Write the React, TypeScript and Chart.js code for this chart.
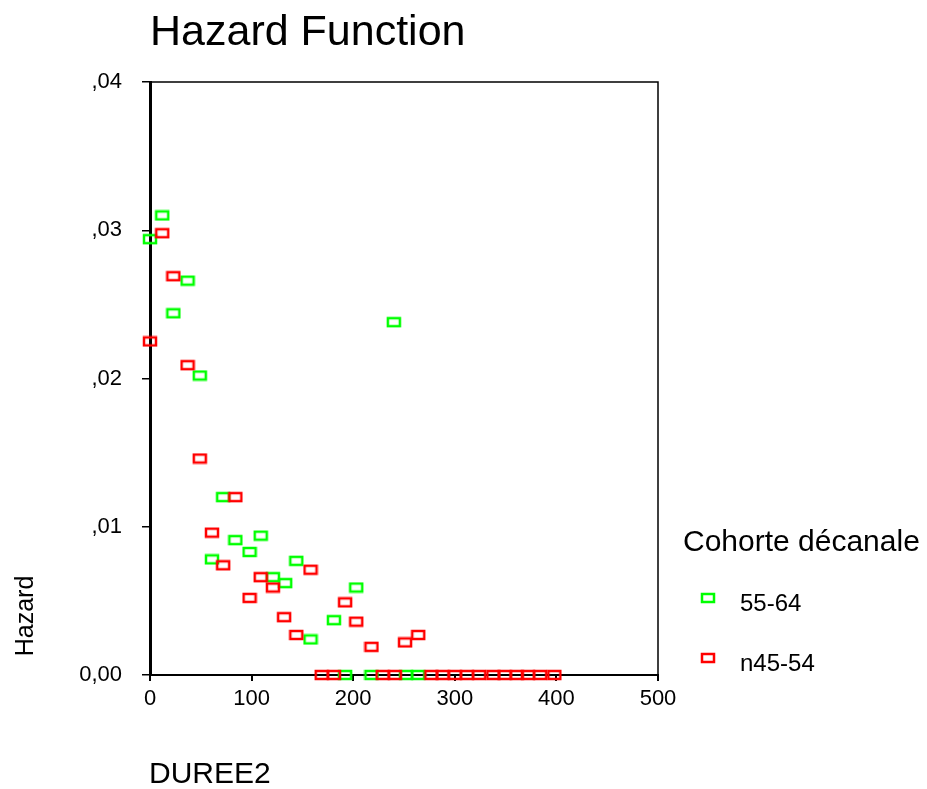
import React, { useEffect, useRef } from "react";
import { Chart, registerables } from "chart.js";

Chart.register(...registerables);

const chartTitle = "Hazard Function";
const xAxisTitle = "DUREE2";
const yAxisTitle = "Hazard";
const legendTitle = "Cohorte décanale";
const seriesLabels = ["55-64", "n45-54"];
const seriesColors = ["#00ff00", "#ff0000"];

const xTickValues = [0, 100, 200, 300, 400, 500];
const yTickValues = [0, 0.01, 0.02, 0.03, 0.04];
const yTickLabels = ["0,00", ",01", ",02", ",03", ",04"];

const greenX = [0, 12, 23, 37, 49, 61, 72, 84, 98, 109, 121, 133, 144, 158, 181, 192, 203, 218, 240, 252, 264];
const greenY = [0.0294, 0.031, 0.0244, 0.0266, 0.0202, 0.0078, 0.012, 0.0091, 0.0083, 0.0094, 0.0066, 0.0062, 0.0077, 0.0024, 0.0037, 0, 0.0059, 0, 0.0238, 0, 0];

const redX = [0, 12, 23, 37, 49, 61, 72, 84, 98, 109, 121, 132, 144, 158, 169, 181, 192, 203, 218, 229, 241, 251, 264, 277, 288, 300, 312, 324, 338, 349, 361, 372, 384, 398];
const redY = [0.0225, 0.0298, 0.0269, 0.0209, 0.0146, 0.0096, 0.0074, 0.012, 0.0052, 0.0066, 0.0059, 0.0039, 0.0027, 0.0071, 0, 0, 0.0049, 0.0036, 0.0019, 0, 0, 0.0022, 0.0027, 0, 0, 0, 0, 0, 0, 0, 0, 0, 0, 0];

const FONT = '"Liberation Sans", Arial, sans-serif';

function makeMarker(color: string) {
  const c = document.createElement("canvas");
  c.width = 16;
  c.height = 12;
  const ctx = c.getContext("2d")!;
  ctx.strokeStyle = color;
  ctx.lineWidth = 2.5;
  ctx.strokeRect(2, 2, 12, 8);
  return c;
}

export default function App() {
  const ref = useRef<HTMLCanvasElement | null>(null);

  useEffect(() => {
    const canvas = ref.current!;
    const markers = seriesColors.map(makeMarker);

    const decorPlugin = {
      id: "decor",
      afterDraw(chart: any) {
        const ctx = chart.ctx;
        const a = chart.chartArea;
        ctx.save();
        ctx.strokeStyle = "#000";
        ctx.lineWidth = 1.5;
        ctx.beginPath();
        ctx.moveTo(a.left, a.top);
        ctx.lineTo(a.right, a.top);
        ctx.lineTo(a.right, a.bottom);
        ctx.stroke();

        ctx.fillStyle = "#000";
        ctx.textAlign = "left";
        ctx.textBaseline = "alphabetic";
        ctx.font = `43px ${FONT}`;
        ctx.fillText(chartTitle, 150, 45);

        ctx.font = `30px ${FONT}`;
        ctx.fillText(xAxisTitle, 149, 783);

        ctx.save();
        ctx.translate(33, 616);
        ctx.rotate(-Math.PI / 2);
        ctx.textAlign = "center";
        ctx.font = `25px ${FONT}`;
        ctx.fillText(yAxisTitle, 0, 0);
        ctx.restore();

        ctx.font = `30px ${FONT}`;
        ctx.fillText(legendTitle, 683, 551);

        const itemY = [598, 658];
        ctx.font = `24px ${FONT}`;
        seriesLabels.forEach((lab, i) => {
          ctx.drawImage(markers[i], 708 - 8, itemY[i] - 6);
          ctx.fillText(lab, 740, itemY[i] + 13);
        });
        ctx.restore();
      },
    };

    const chart = new Chart(canvas, {
      type: "scatter",
      data: {
        datasets: [
          {
            label: seriesLabels[0],
            data: greenX.map((x, i) => ({ x, y: greenY[i] })),
            pointStyle: markers[0] as any,
            borderColor: seriesColors[0],
            backgroundColor: seriesColors[0],
            clip: false as any,
            order: 1,
          },
          {
            label: seriesLabels[1],
            data: redX.map((x, i) => ({ x, y: redY[i] })),
            pointStyle: markers[1] as any,
            borderColor: seriesColors[1],
            backgroundColor: seriesColors[1],
            clip: false as any,
            order: 0,
          },
        ],
      },
      options: {
        responsive: false,
        maintainAspectRatio: false,
        devicePixelRatio: 1,
        animation: false,
        events: [],
        layout: { padding: { left: 0, top: 82, right: 927 - 658, bottom: 0 } },
        plugins: {
          legend: { display: false },
          title: { display: false },
          tooltip: { enabled: false },
        },
        scales: {
          x: {
            type: "linear",
            min: 0,
            max: 500,
            afterBuildTicks: (s: any) => {
              s.ticks = xTickValues.map((v) => ({ value: v }));
            },
            afterFit: (s: any) => {
              s.height = 114;
            },
            ticks: {
              color: "#000",
              font: { family: FONT, size: 22 },
              padding: 5,
              maxRotation: 0,
              autoSkip: false,
              callback: (v: any) => String(v),
            },
            grid: {
              drawOnChartArea: false,
              drawTicks: true,
              tickLength: 6,
              color: "#000",
              lineWidth: 2,
            },
            border: { display: true, color: "#000", width: 2 },
          },
          y: {
            type: "linear",
            min: 0,
            max: 0.04,
            afterBuildTicks: (s: any) => {
              s.ticks = yTickValues.map((v) => ({ value: v }));
            },
            afterFit: (s: any) => {
              s.width = 150;
            },
            ticks: {
              color: "#000",
              font: { family: FONT, size: 22 },
              padding: 20,
              autoSkip: false,
              callback: (_v: any, i: number) => yTickLabels[i],
            },
            grid: {
              drawOnChartArea: false,
              drawTicks: true,
              tickLength: 8,
              color: "#000",
              lineWidth: 1.5,
            },
            border: { display: true, color: "#000", width: 3 },
          },
        },
      } as any,
      plugins: [decorPlugin],
    });

    return () => chart.destroy();
  }, []);

  return (
    <canvas
      ref={ref}
      width={927}
      height={789}
      style={{ position: "absolute", left: 0, top: 0, width: 927, height: 789, display: "block" }}
    />
  );
}
